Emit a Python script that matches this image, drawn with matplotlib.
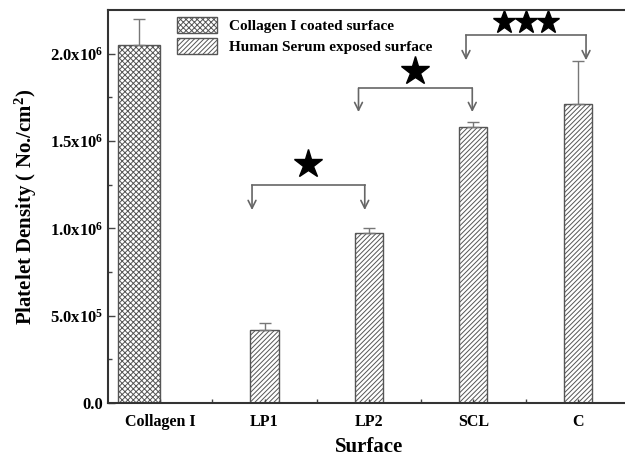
import numpy as np
import matplotlib.pyplot as plt

plt.rcParams['font.family'] = ['Liberation Serif', 'DejaVu Sans']
plt.rcParams['font.weight'] = 'bold'
plt.rcParams['mathtext.fontset'] = 'custom'
plt.rcParams['mathtext.rm'] = 'Liberation Serif:bold'
plt.rcParams['mathtext.bf'] = 'Liberation Serif:bold'
plt.rcParams['mathtext.default'] = 'bf'
plt.rcParams['hatch.linewidth'] = 0.7

# data
surfaces = ['Collagen I', 'LP1', 'LP2', 'SCL', 'C']
collagen_val = [2.05e6]
collagen_err = [0.15e6]
serum_val = [0.418e6, 0.973e6, 1.58e6, 1.71e6]
serum_err = [0.04e6, 0.027e6, 0.03e6, 0.25e6]

# significance brackets: (left x, right x, bar level, arrow tip, n stars, star y)
brackets = [(0.88, 1.96, 1.248e6, 1.105e6, 1, 1.37e6),
            (1.90, 2.99, 1.803e6, 1.666e6, 1, 1.90e6),
            (2.93, 4.08, 2.107e6, 1.963e6, 3, 2.18e6)]

fig = plt.figure(figsize=(6.25, 4.59), dpi=100)
ax = fig.add_axes([0.1728, 0.122, 0.835, 0.856])

edge = '#555555'
x = np.arange(len(surfaces))

ax.bar(x[:1] - 0.2, collagen_val, width=0.4, facecolor='white', edgecolor=edge,
       hatch='xxxxxx', linewidth=1.0, label='Collagen I coated surface')
ax.errorbar(x[:1] - 0.2, collagen_val, yerr=[[0], collagen_err], fmt='none',
            ecolor='#777777', elinewidth=1.0, capsize=4)
ax.bar(x[1:], serum_val, width=0.27, facecolor='white', edgecolor=edge,
       hatch='///////', linewidth=1.0, label='Human Serum exposed surface')
ax.errorbar(x[1:], serum_val, yerr=[[0] * 4, serum_err], fmt='none',
            ecolor='#777777', elinewidth=1.0, capsize=4)

for x0, x1, lvl, tip, n, sy in brackets:
    ax.plot([x0, x1], [lvl, lvl], color='#666666', lw=1.2)
    for xx in (x0, x1):
        ax.annotate('', xy=(xx, tip), xytext=(xx, lvl),
                    arrowprops=dict(arrowstyle='->', color='#666666', lw=1.2,
                                    mutation_scale=14, shrinkA=0, shrinkB=0))
    xm = (x0 + x1) / 2
    if n == 1:
        ax.plot([xm], [sy], marker='*', ms=21, color='black', ls='none', clip_on=False)
    else:
        sx = xm + 0.21 * (np.arange(n) - (n - 1) / 2)
        ax.plot(sx, [sy] * n, marker='*', ms=17, color='black', ls='none', clip_on=False)

ax.set_xlim(-0.5, 4.5)
ax.set_ylim(0, 2.25e6)
ax.set_xticks(x)
ax.set_xticklabels(surfaces, fontsize=11.5, fontweight='bold')
ax.set_xticks(x[:-1] + 0.5, minor=True)
yt = [0, 0.5e6, 1.0e6, 1.5e6, 2.0e6]
ax.set_yticks(yt)
ax.set_yticklabels(['0.0', r'5.0x10$^{5}$', r'1.0x10$^{6}$', r'1.5x10$^{6}$', r'2.0x10$^{6}$'],
                   fontsize=12)
ax.set_yticks(np.arange(0.25e6, 2.25e6, 0.5e6), minor=True)
ax.tick_params(direction='in', which='both', length=5, width=1, color='#444444')
ax.tick_params(which='minor', length=3)
ax.tick_params(axis='x', which='major', length=3, pad=8)
for s in ax.spines.values():
    s.set_linewidth(1.5)
    s.set_color('#333333')

ax.set_xlabel('Surface', fontsize=15, fontweight='bold', labelpad=5)
ax.set_ylabel(r'Platelet Density ( No./cm$^{2}$)', fontsize=15, fontweight='bold', labelpad=8)

ax.legend(loc='upper left', bbox_to_anchor=(0.115, 1.005), frameon=False,
          handlelength=2.6, handleheight=1.2, borderaxespad=0.2, labelspacing=0.3,
          prop={'weight': 'bold', 'size': 11})

fig.savefig('out.png', dpi=100)
